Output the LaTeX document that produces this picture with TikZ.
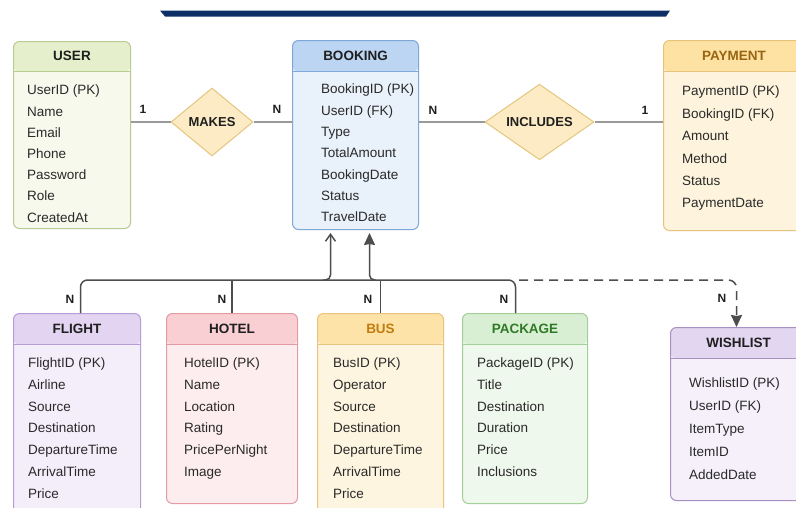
\documentclass[tikz,border=0pt]{standalone}
\usepackage{fontspec}
\setmainfont{Liberation Sans}
\usetikzlibrary{shapes.geometric,arrows.meta}
\definecolor{navy}{HTML}{0E2F66}
\definecolor{userH}{HTML}{E6EFCC}\definecolor{userB}{HTML}{F6F9EC}\definecolor{userD}{HTML}{B7CB92}
\definecolor{bookH}{HTML}{BCD5F2}\definecolor{bookB}{HTML}{E9F1FB}\definecolor{bookD}{HTML}{7FA7D8}
\definecolor{payH}{HTML}{FDE2A4}\definecolor{payB}{HTML}{FEF4DD}\definecolor{payD}{HTML}{E7C47C}
\definecolor{flH}{HTML}{E3D4F1}\definecolor{flB}{HTML}{F4EDFA}\definecolor{flD}{HTML}{B79CD8}
\definecolor{hoH}{HTML}{F9CFD3}\definecolor{hoB}{HTML}{FDEDEF}\definecolor{hoD}{HTML}{E39CA3}
\definecolor{buH}{HTML}{FDE3A8}\definecolor{buB}{HTML}{FEF5E0}\definecolor{buD}{HTML}{E9C47E}
\definecolor{paH}{HTML}{D9EFD3}\definecolor{paB}{HTML}{EFF8EC}\definecolor{paD}{HTML}{A3CF98}
\definecolor{wiH}{HTML}{E2D6F0}\definecolor{wiB}{HTML}{F5F0FA}\definecolor{wiD}{HTML}{A591C2}
\definecolor{dmF}{HTML}{FCEBC4}\definecolor{dmD}{HTML}{E4C67E}
\definecolor{txt}{HTML}{2A2A2A}
\definecolor{ttlc}{HTML}{1F1F1F}
\definecolor{payT}{HTML}{9A6410}
\definecolor{busT}{HTML}{C27C0E}
\definecolor{pkgT}{HTML}{2F7A26}
\definecolor{tree}{HTML}{4D4D4D}
\definecolor{rel}{HTML}{9A9A9A}
\tikzset{
  ent/.style n args={2}{draw=#1D, fill=#1B, line width=1pt, rounded corners=6pt,
    inner sep=0pt, anchor=north west,
    path picture={\fill[#1H] (path picture bounding box.north west) rectangle
        ([yshift=-#2pt]path picture bounding box.north east);
      \draw[#1D, line width=1pt] ([yshift=-#2pt]path picture bounding box.north west) --
        ([yshift=-#2pt]path picture bounding box.north east);}},
  ttl/.style={font=\bfseries\fontsize{13.5}{16}\selectfont, text=#1, inner sep=0pt},
  attr/.style={font=\fontsize{13.5}{15}\selectfont, text=txt, anchor=west, inner sep=0pt,
    text height=9.7pt, text depth=0pt},
  card/.style={font=\bfseries\fontsize{12}{14}\selectfont, text=ttlc, inner sep=0pt},
  rhomb/.style={diamond, draw=dmD, fill=dmF, line width=1pt, inner sep=0pt,
    font=\bfseries\fontsize{13}{15}\selectfont, text=ttlc},
  relline/.style={draw=rel, line width=1.6pt},
  treeline/.style={draw=tree, line width=1.5pt},
}
\newcommand\attrlist[5]{%
  \foreach \t [count=\i from 0] in {#5}
    \node[attr] (#1-a\i) at (#2, #3+\i*#4) {\t};}
\begin{document}
\begin{tikzpicture}[x=1pt,y=-1pt]
\useasboundingbox[fill=white] (0,0) rectangle (796,507);
% top bar
\fill[navy] (160,10.5) -- (670,10.5) -- (666,16.5) -- (165,16.5) -- cycle;

% entities top
\node[ent={user}{30}, minimum width=117pt, minimum height=187pt] (user) at (13,41) {};
\node[ttl=ttlc] (userT) at ([yshift=-15pt]user.north) {USER};
\attrlist{user}{27}{90}{21.2}{UserID (PK),Name,Email,Phone,Password,Role,CreatedAt}

\node[ent={book}{31}, minimum width=126pt, minimum height=189pt] (booking) at (292,40) {};
\node[ttl=ttlc] (bookingT) at ([yshift=-16pt]booking.north) {BOOKING};
\attrlist{booking}{321}{89}{21.3}{BookingID (PK),UserID (FK),Type,TotalAmount,BookingDate,Status,TravelDate}

\node[ent={pay}{31}, minimum width=141pt, minimum height=190pt] (payment) at (663,40) {};
\node[ttl=payT] (paymentT) at ([yshift=-16pt]payment.north) {PAYMENT};
\attrlist{payment}{682}{91}{22.4}{PaymentID (PK),BookingID (FK),Amount,Method,Status,PaymentDate}

% relationships
\node[rhomb, minimum width=82pt, minimum height=68pt] (makes) at (212,122) {MAKES};
\node[rhomb, minimum width=109pt, minimum height=68pt] (includes) at (539.5,122) {INCLUDES};
\draw[relline] (makes.west -| user.east) -- (makes.west);
\draw[relline] (makes.east) -- (makes.east -| booking.west);
\draw[relline] (includes.west -| booking.east) -- (includes.west);
\draw[relline] (includes.east) -- (includes.east -| payment.west);
\node[card] (c1) at (143,109) {1};
\node[card] (c2) at (277,109) {N};
\node[card] (c3) at (433,110) {N};
\node[card] (c4) at (645,110) {1};

% entities bottom
\node[ent={fl}{31}, minimum width=127pt, minimum height=210pt] (flight) at (13,313) {};
\node[ttl=ttlc] (flightT) at ([yshift=-16pt]flight.north) {FLIGHT};
\attrlist{flight}{28}{363}{21.7}{FlightID (PK),Airline,Source,Destination,DepartureTime,ArrivalTime,Price}

\node[ent={ho}{31}, minimum width=131pt, minimum height=190pt] (hotel) at (166,313) {};
\node[ttl=ttlc] (hotelT) at ([yshift=-16pt]hotel.north) {HOTEL};
\attrlist{hotel}{184}{363}{21.7}{HotelID (PK),Name,Location,Rating,PricePerNight,Image}

\node[ent={bu}{31}, minimum width=126pt, minimum height=210pt] (bus) at (317,313) {};
\node[ttl=busT] (busT) at ([yshift=-16pt]bus.north) {BUS};
\attrlist{bus}{333}{363}{21.7}{BusID (PK),Operator,Source,Destination,DepartureTime,ArrivalTime,Price}

\node[ent={pa}{31}, minimum width=125pt, minimum height=190pt] (package) at (462,313) {};
\node[ttl=pkgT] (packageT) at ([yshift=-16pt]package.north) {PACKAGE};
\attrlist{package}{477}{363}{21.7}{PackageID (PK),Title,Destination,Duration,Price,Inclusions}

\node[ent={wi}{31}, minimum width=136pt, minimum height=173pt] (wishlist) at (670,327) {};
\node[ttl=ttlc] (wishlistT) at ([yshift=-16pt]wishlist.north) {WISHLIST};
\attrlist{wishlist}{689}{383}{23}{WishlistID (PK),UserID (FK),ItemType,ItemID,AddedDate}

% tree connectors
\coordinate (hline) at (0,280);
\draw[treeline, rounded corners=7pt] ([xshift=3.5pt]flight.north) |- ([xshift=-9.5pt]package.north |- hline) -- ([xshift=-9.5pt]package.north);
\draw[treeline] (hotel.north) -- (hotel.north |- hline);
\draw[treeline] (bus.north) -- (bus.north |- hline);
\draw[treeline, rounded corners=5pt, -{Straight Barb[length=7pt,width=10pt]}]
  ([xshift=-33pt]booking.south |- hline) -| ([xshift=-25pt,yshift=-3pt]booking.south);
\draw[treeline, rounded corners=5pt, -{Stealth[length=12pt,width=11pt,inset=1pt]}]
  ([xshift=20pt]booking.south |- hline) -| ([xshift=14pt,yshift=-3pt]booking.south);
\draw[treeline, dash pattern=on 9pt off 6pt, rounded corners=8pt, -{Stealth[length=12pt,width=11pt,inset=1pt]}]
  ([xshift=-6pt]package.north |- hline) -| ([xshift=-2pt]wishlist.north);
\node[card] (n1) at (70,299) {N};
\node[card] (n2) at (222,299) {N};
\node[card] (n3) at (368,299) {N};
\node[card] (n4) at (504,299) {N};
\node[card] (n5) at (722,298) {N};
\end{tikzpicture}
\end{document}
